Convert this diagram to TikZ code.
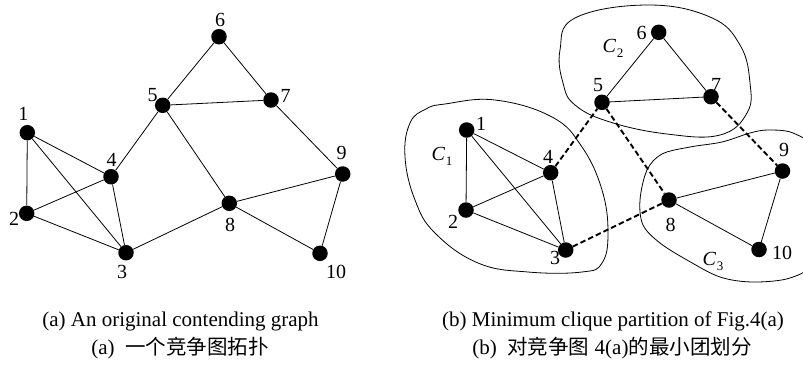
\documentclass[tikz,border=0pt]{standalone}
\usepackage{fontspec}
\setmainfont{Liberation Serif}
\newfontfamily\cjk{Noto Sans CJK SC}
\newcommand{\cl}[1]{\textit{C}\kern0.5bp\raisebox{-0.25em}{\fontsize{13bp}{13bp}\selectfont #1}}
\begin{document}
\begin{tikzpicture}[x=1bp,y=-1bp,
  vtx/.style={circle,fill=black,inner sep=0pt,minimum size=15.5bp},
  lbl/.style={inner sep=0pt,font=\fontsize{20bp}{22bp}\selectfont},
  edge/.style={line width=0.8bp},
  cross/.style={line width=1.9bp,dash pattern=on 5.5bp off 3bp},
  blob/.style={line width=0.8bp},
  captxt/.style={inner sep=0pt,font=\fontsize{21bp}{23bp}\selectfont}]
\useasboundingbox (0,0) rectangle (803,365);
\clip (0,0) rectangle (803,365);
% ---------- left graph ----------
\node[vtx] (a1) at (27.3,132.7) {};
\node[vtx] (a2) at (26.7,213.3) {};
\node[vtx] (a3) at (126,252.7) {};
\node[vtx] (a4) at (111,176.7) {};
\node[vtx] (a5) at (162.7,105.3) {};
\node[vtx] (a6) at (219,36.7) {};
\node[vtx] (a7) at (271,100) {};
\node[vtx] (a8) at (229.3,203.3) {};
\node[vtx] (a9) at (342.7,174) {};
\node[vtx] (a10) at (320,253.3) {};
\foreach \u/\v in {1/2,1/4,1/3,2/4,2/3,4/3,4/5,5/6,6/7,5/7,5/8,7/9,3/8,8/9,8/10,9/10}
  \draw[edge] (a\u) -- (a\v);
\node[lbl] (la1) at (23.3,113.5) {1};
\node[lbl] (la2) at (14,219) {2};
\node[lbl] (la3) at (122,272) {3};
\node[lbl] (la4) at (111.7,160) {4};
\node[lbl] (la5) at (152.7,95) {5};
\node[lbl] (la6) at (220,20) {6};
\node[lbl] (la7) at (285.7,96) {7};
\node[lbl] (la8) at (230,225) {8};
\node[lbl] (la9) at (341.7,152.7) {9};
\node[lbl] (la10) at (336,272) {10};
% ---------- right graph ----------
\draw[blob] plot[smooth cycle,tension=0.7] coordinates {
  (445,104) (495,100) (552,117) (582,147) (602,190) (608,233) (602,263)
  (582,272) (528,272) (478,263) (435,233) (415,200) (405,157) (410,123) (426,109)};
\draw[blob] plot[smooth cycle,tension=0.7] coordinates {
  (647,5) (710,17) (740,45) (750,83) (747,113) (720,135) (667,134)
  (610,122) (575,105) (563,83) (560,50) (575,18)};
\draw[blob] plot[smooth cycle,tension=0.55] coordinates {
  (640,200) (647,170) (662,154) (690,147) (722,142) (750,133) (768,130)
  (793,133) (812,150) (818,210) (812,262) (790,278) (753,282) (720,277)
  (687,260) (660,243) (643,225)};
\node[vtx] (b1) at (466.7,130) {};
\node[vtx] (b2) at (466,210) {};
\node[vtx] (b3) at (565.7,250) {};
\node[vtx] (b4) at (550.7,172.7) {};
\node[vtx] (b5) at (602,102.3) {};
\node[vtx] (b6) at (658.7,32.3) {};
\node[vtx] (b7) at (711,96.7) {};
\node[vtx] (b8) at (669,200) {};
\node[vtx] (b9) at (782.5,171) {};
\node[vtx] (b10) at (759,249.5) {};
\foreach \u/\v in {1/2,1/4,1/3,2/4,2/3,4/3,5/6,6/7,5/7,8/9,8/10,9/10}
  \draw[edge] (b\u) -- (b\v);
\foreach \u/\v in {4/5,5/8,7/9,3/8}
  \draw[cross] (b\u) -- (b\v);
\node[lbl] (lb1) at (481,123.5) {1};
\node[lbl] (lb2) at (453,222) {2};
\node[lbl] (lb3) at (555,258) {3};
\node[lbl] (lb4) at (548,157) {4};
\node[lbl] (lb5) at (598,85) {5};
\node[lbl] (lb6) at (641.5,32.5) {6};
\node[lbl] (lb7) at (716,85) {7};
\node[lbl] (lb8) at (670.5,225) {8};
\node[lbl] (lb9) at (784,150) {9};
\node[lbl] (lb10) at (782,252.5) {10};
\node[lbl] (c1) at (442,156) {\cl{1}};
\node[lbl] (c2) at (613,48) {\cl{2}};
\node[lbl] (c3) at (713,261) {\cl{3}};
% ---------- captions ----------
\node[captxt] (capa) at (180.5,321) {(a) An original contending graph};
\node[captxt] (capb) at (613,321) {(b) Minimum clique partition of Fig.4(a)};
\node[captxt] (capa2) at (180,348) {(a)\ \ {\cjk\fontsize{20.5bp}{22bp}\selectfont 一个竞争图拓扑}};
\node[captxt] (capb2) at (612,348) {(b)\ \ {\cjk\fontsize{20.5bp}{22bp}\selectfont 对竞争图}\ 4(a){\cjk\fontsize{20.5bp}{22bp}\selectfont 的最小团划分}};
\end{tikzpicture}
\end{document}
